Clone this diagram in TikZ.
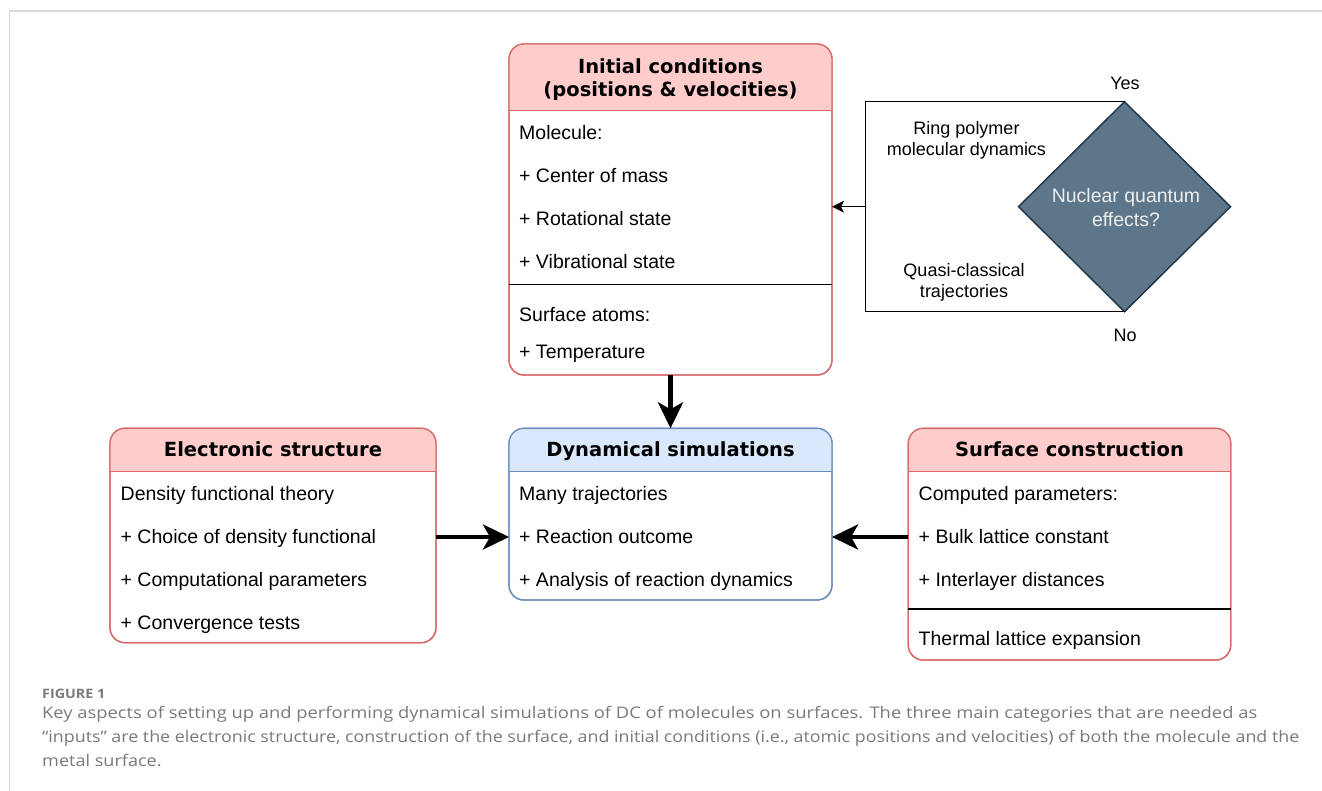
\documentclass[tikz,border=0pt]{standalone}
\usepackage{fontspec}
\setmainfont{Liberation Sans}
\newfontfamily\hdrfamily{DejaVu Sans}
\newfontfamily\capfamily{Open Sans}
\usetikzlibrary{arrows.meta,shapes.geometric}
\definecolor{boxred}{HTML}{D86A6A}
\definecolor{hdrred}{HTML}{FFCCCC}
\definecolor{boxblue}{HTML}{6C8EBF}
\definecolor{hdrblue}{HTML}{DAE8FC}
\definecolor{diafill}{HTML}{5D7689}
\definecolor{diadraw}{HTML}{24394B}
\definecolor{diatext}{HTML}{EEEEEE}
\definecolor{capgray}{HTML}{7A7A7A}
\definecolor{framegray}{HTML}{DADADA}
\tikzset{
  card/.style={draw=boxred, line width=1.3pt, rounded corners=15pt, inner sep=0pt, outer sep=0pt},
  bluecard/.style={card, draw=boxblue},
  bodytxt/.style={anchor=base west, inner sep=0pt, font=\fontsize{19.5}{22}\selectfont},
  hdrtxt/.style={anchor=base, inner sep=0pt, font=\hdrfamily\bfseries\fontsize{19.5}{22}\selectfont},
  lbltxt/.style={anchor=base, inner sep=0pt, font=\fontsize{18}{21}\selectfont},
  sepline/.style={line width=1.3pt, black},
  bigarrow/.style={line width=4.5pt, -{Stealth[length=26pt, width=25pt, inset=7pt]}},
  thinarrow/.style={line width=1.5pt, -{Stealth[length=12pt, width=12pt, inset=3pt]}},
  thinline/.style={line width=1.5pt},
  captxt/.style={anchor=base west, inner sep=0pt, text=capgray, font=\capfamily\fontsize{16}{19}\selectfont},
}
\begin{document}
\begin{tikzpicture}[x=1pt,y=-1pt]
\useasboundingbox (0,0) rectangle (1322,791);
\fill[white] (0,0) rectangle (1322,791);
% frame
\draw[framegray, line width=2pt] (9,11.5) -- (1322,11.5);
\draw[framegray, line width=1pt] (9.5,11.5) -- (9.5,791);

% ---------- Initial conditions ----------
\node[card, minimum width=323pt, minimum height=331pt] (init) at (670.5,209.5) {};
\begin{scope}
  \clip (508,43) rectangle (834,110.5);
  \fill[hdrred, rounded corners=15pt] (509,44) rectangle (832,375);
\end{scope}
\node[card, minimum width=323pt, minimum height=331pt] at (init.center) {};
\draw[boxred, line width=1.3pt] (init.west |- 0,110.5) -- (init.east |- 0,110.5);
\node[hdrtxt] (initt1) at (670.5,73.5) {Initial conditions};
\node[hdrtxt] (initt2) at (670.5,96.5) {(positions \& velocities)};
\node[bodytxt] (i1) at (519,140) {Molecule:};
\node[bodytxt] (i2) at (519,183) {+ Center of mass};
\node[bodytxt] (i3) at (519,226) {+ Rotational state};
\node[bodytxt] (i4) at (519,269) {+ Vibrational state};
\draw[sepline] (init.west |- 0,284.5) -- (init.east |- 0,284.5);
\node[bodytxt] (i5) at (519,322) {Surface atoms:};
\node[bodytxt] (i6) at (519,359) {+ Temperature};

% ---------- Electronic structure ----------
\node[card, minimum width=326pt, minimum height=214.5pt] (es) at (273,535.5) {};
\begin{scope}
  \clip (108,427) rectangle (438,471.5);
  \fill[hdrred, rounded corners=15pt] (110,428.3) rectangle (436,642.7);
\end{scope}
\node[card, minimum width=326pt, minimum height=214.5pt] at (es.center) {};
\draw[boxred, line width=1.3pt] (es.west |- 0,471.5) -- (es.east |- 0,471.5);
\node[hdrtxt] (est) at (273,456.7) {Electronic structure};
\node[bodytxt] (e1) at (120.5,500) {Density functional theory};
\node[bodytxt] (e2) at (120.5,543.3) {+ Choice of density functional};
\node[bodytxt] (e3) at (120.5,586.7) {+ Computational parameters};
\node[bodytxt] (e4) at (120.5,629.5) {+ Convergence tests};

% ---------- Dynamical simulations ----------
\node[bluecard, minimum width=323pt, minimum height=171.7pt] (ds) at (670.5,514.2) {};
\begin{scope}
  \clip (507,427) rectangle (834,471.5);
  \fill[hdrblue, rounded corners=15pt] (509,428.3) rectangle (832,600);
\end{scope}
\node[bluecard, minimum width=323pt, minimum height=171.7pt] at (ds.center) {};
\draw[boxblue, line width=1.3pt] (ds.west |- 0,471.5) -- (ds.east |- 0,471.5);
\node[hdrtxt] (dst) at (670.5,456.7) {Dynamical simulations};
\node[bodytxt] (d1) at (519,500) {Many trajectories};
\node[bodytxt] (d2) at (519,543.3) {+ Reaction outcome};
\node[bodytxt] (d3) at (519,586.7) {+ Analysis of reaction dynamics};

% ---------- Surface construction ----------
\node[card, minimum width=322.5pt, minimum height=231.7pt] (sc) at (1069.5,544.2) {};
\begin{scope}
  \clip (906,427) rectangle (1233,471.5);
  \fill[hdrred, rounded corners=15pt] (908.2,428.3) rectangle (1230.7,660);
\end{scope}
\node[card, minimum width=322.5pt, minimum height=231.7pt] at (sc.center) {};
\draw[boxred, line width=1.3pt] (sc.west |- 0,471.5) -- (sc.east |- 0,471.5);
\node[hdrtxt] (sct) at (1069.5,456.7) {Surface construction};
\node[bodytxt] (s1) at (918.5,500) {Computed parameters:};
\node[bodytxt] (s2) at (918.5,543.3) {+ Bulk lattice constant};
\node[bodytxt] (s3) at (918.5,586.7) {+ Interlayer distances};
\draw[sepline] (sc.west |- 0,609) -- (sc.east |- 0,609);
\node[bodytxt] (s4) at (918.5,645.5) {Thermal lattice expansion};

% ---------- Decision ----------
\node[diamond, draw=diadraw, fill=diafill, line width=1.5pt, minimum width=212pt, minimum height=210pt, inner sep=0pt, outer sep=0pt] (nqe) at (1124.5,206.7) {};
\node[anchor=base, inner sep=0pt, text=diatext, font=\fontsize{19.5}{22}\selectfont] (nqe1) at (1126,203) {Nuclear quantum};
\node[anchor=base, inner sep=0pt, text=diatext, font=\fontsize{19.5}{22}\selectfont] (nqe2) at (1126,226.7) {effects?};
\node[lbltxt] (yes) at (1125,89.3) {Yes};
\node[lbltxt] (no) at (1125,341.7) {No};
\node[lbltxt] (rp1) at (966.5,135) {Ring polymer};
\node[lbltxt] (rp2) at (966.5,155.5) {molecular dynamics};
\node[lbltxt] (qc1) at (964,276.7) {Quasi-classical};
\node[lbltxt] (qc2) at (964,297.3) {trajectories};

\coordinate (junc) at (865.5,206.7);
\draw[thinline] (nqe.north) -| (junc);
\draw[thinline] (nqe.south) -| (junc);
\draw[thinarrow] (junc) -- (init.east |- junc);

% ---------- Big arrows ----------
\coordinate (arow) at (0,537);
\draw[bigarrow] (es.east |- arow) -- (ds.west |- arow);
\draw[bigarrow] (sc.west |- arow) -- (ds.east |- arow);
\draw[bigarrow] (init.south) -- (ds.north);

% ---------- Caption ----------
\node[captxt, font=\capfamily\bfseries\fontsize{13}{15}\selectfont] (figlbl) at (42,698.3) {\resizebox{63pt}{\height}{FIGURE 1}};
\node[captxt] (cap1) at (42,718.3) {\resizebox{1215pt}{\height}{Key aspects of setting up and performing dynamical simulations of DC of molecules on surfaces. The three main categories that are needed as}};
\node[captxt] (cap2) at (42,742.3) {\resizebox{1257pt}{\height}{“inputs” are the electronic structure, construction of the surface, and initial conditions (i.e., atomic positions and velocities) of both the molecule and the}};
\node[captxt] (cap3) at (42,766.3) {\scalebox{1.13}[1]{metal surface.}};
\end{tikzpicture}
\end{document}
